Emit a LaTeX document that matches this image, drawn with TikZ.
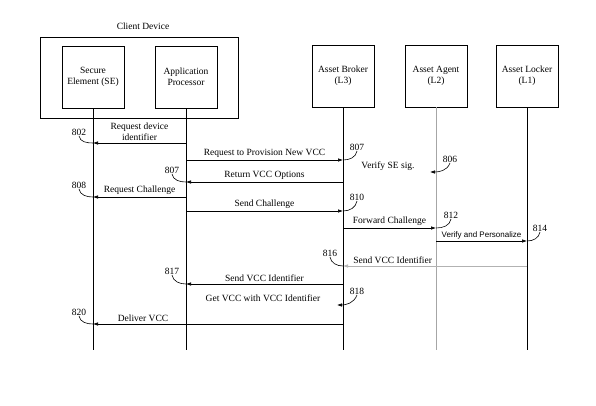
\documentclass[tikz,border=0pt]{standalone}
\usepackage{fontspec}
\setmainfont{Liberation Serif}
\newfontfamily\arialfont{Liberation Sans}
\usetikzlibrary{arrows.meta}
\tikzset{
  party/.style={draw, minimum width=62pt, minimum height=62pt, align=center, inner sep=1pt, font=\fontsize{9.5}{11}\selectfont},
  msg/.style={-{Latex[length=5pt,width=3.5pt]}},
  lbl/.style={font=\fontsize{9.5}{11}\selectfont, inner sep=1pt},
  num/.style={font=\fontsize{9.5}{11}\selectfont, inner sep=0.5pt},
}
\begin{document}
\begin{tikzpicture}[x=1pt,y=-1pt,line width=0.6pt]
        \useasboundingbox (0,0) rectangle (596,405);
        % parties
        \node[draw, minimum width=198pt, minimum height=81pt] (client) at (139,77.5) {};
        \node[lbl] (clientname) at (143,26) {Client Device};
        \node[party] (se) at (93,77) {Secure\\Element (SE)};
        \node[party] (ap) at (186,77) {Application\\Processor};
        \node[party] (ab) at (343,76) {Asset Broker\\(L3)};
        \node[party] (ag) at (436,76) {Asset Agent\\(L2)};
        \node[party] (al) at (527,76) {Asset Locker\\(L1)};
        % lifelines
        \draw (se.south) -- (se.south |- 0,350);
        \draw (ap.south) -- (ap.south |- 0,350);
        \draw (ab.south) -- (ab.south |- 0,350);
        \draw[gray!70] (ag.south) -- (ag.south |- 0,350);
        \draw (al.south) -- (al.south |- 0,350);
        % messages
        \draw[msg] (ap |- 0,143) -- node[lbl,above=1pt,align=center]{Request device\\identifier} (se |- 0,143);
        \draw[msg] (ap |- 0,160) -- node[lbl,above=1pt]{Request to Provision New VCC} (ab |- 0,160);
        \draw[msg] (ab |- 0,182) -- node[lbl,above=1pt]{Return VCC Options} (ap |- 0,182);
        \node[lbl] (sig) at (388,166) {Verify SE sig.};
        \draw[msg] (ap |- 0,197) -- node[lbl,above=1pt]{Request Challenge} (se |- 0,197);
        \draw[msg] (ap |- 0,211) -- node[lbl,above=1pt]{Send Challenge} (ab |- 0,211);
        \draw[msg] (ab |- 0,228) -- node[lbl,above=1pt]{Forward Challenge} (ag |- 0,228);
        \draw[msg] (ag |- 0,241) -- node[above=1pt,inner sep=1pt,font=\arialfont\fontsize{8}{10}\selectfont]{Verify and Personalize} (al |- 0,241);
        \draw[msg,gray!60] (al |- 0,266) -- node[lbl,above=1pt,pos=0.73,black]{Send VCC Identifier} (ab |- 0,266);
        \draw[msg] (ab |- 0,284) -- node[lbl,above=1pt]{Send VCC Identifier} (ap |- 0,284);
        \node[lbl] (get) at (263,298) {Get VCC with VCC Identifier};
        \draw[msg] (ab |- 0,324) -- node[lbl,above=1pt,pos=0.8]{Deliver VCC} (se |- 0,324);
        % reference numerals
        \node[num] (n802) at (79,132) {802};
        \draw (n802.south) to[out=-80,in=180] (se |- 0,143);
        \node[num] (n807) at (357,147) {807};
        \draw (n807.south) to[out=-100,in=0] (ab |- 0,160);
        \node[num] (n807b) at (172,170) {807};
        \draw (n807b.south) to[out=-80,in=180] (ap |- 0,182);
        \node[num] (n806) at (450,159) {806};
        \coordinate (t806) at (430,172);
        \draw[msg] (n806.south) to[out=-110,in=0] (t806);
        \node[num] (n808) at (79,185) {808};
        \draw (n808.south) to[out=-80,in=180] (se |- 0,197);
        \node[num] (n810) at (357,197) {810};
        \draw (n810.south) to[out=-100,in=0] (ab |- 0,211);
        \node[num] (n812) at (451,215) {812};
        \draw (n812.south) to[out=-100,in=0] (ag |- 0,228);
        \node[num] (n814) at (540,228) {814};
        \draw (n814.south) to[out=-100,in=0] (al |- 0,241);
        \node[num] (n816) at (330,253) {816};
        \draw (n816.south) to[out=-80,in=180] (ab |- 0,266);
        \node[num] (n817) at (172,271) {817};
        \draw (n817.south) to[out=-80,in=180] (ap |- 0,284);
        \node[num] (n818) at (357,291) {818};
        \coordinate (t818) at (337,305);
        \draw[msg] (n818.south) to[out=-110,in=0] (t818);
        \node[num] (n820) at (79,312) {820};
        \draw (n820.south) to[out=-80,in=180] (se |- 0,324);
    \end{tikzpicture}
\end{document}
